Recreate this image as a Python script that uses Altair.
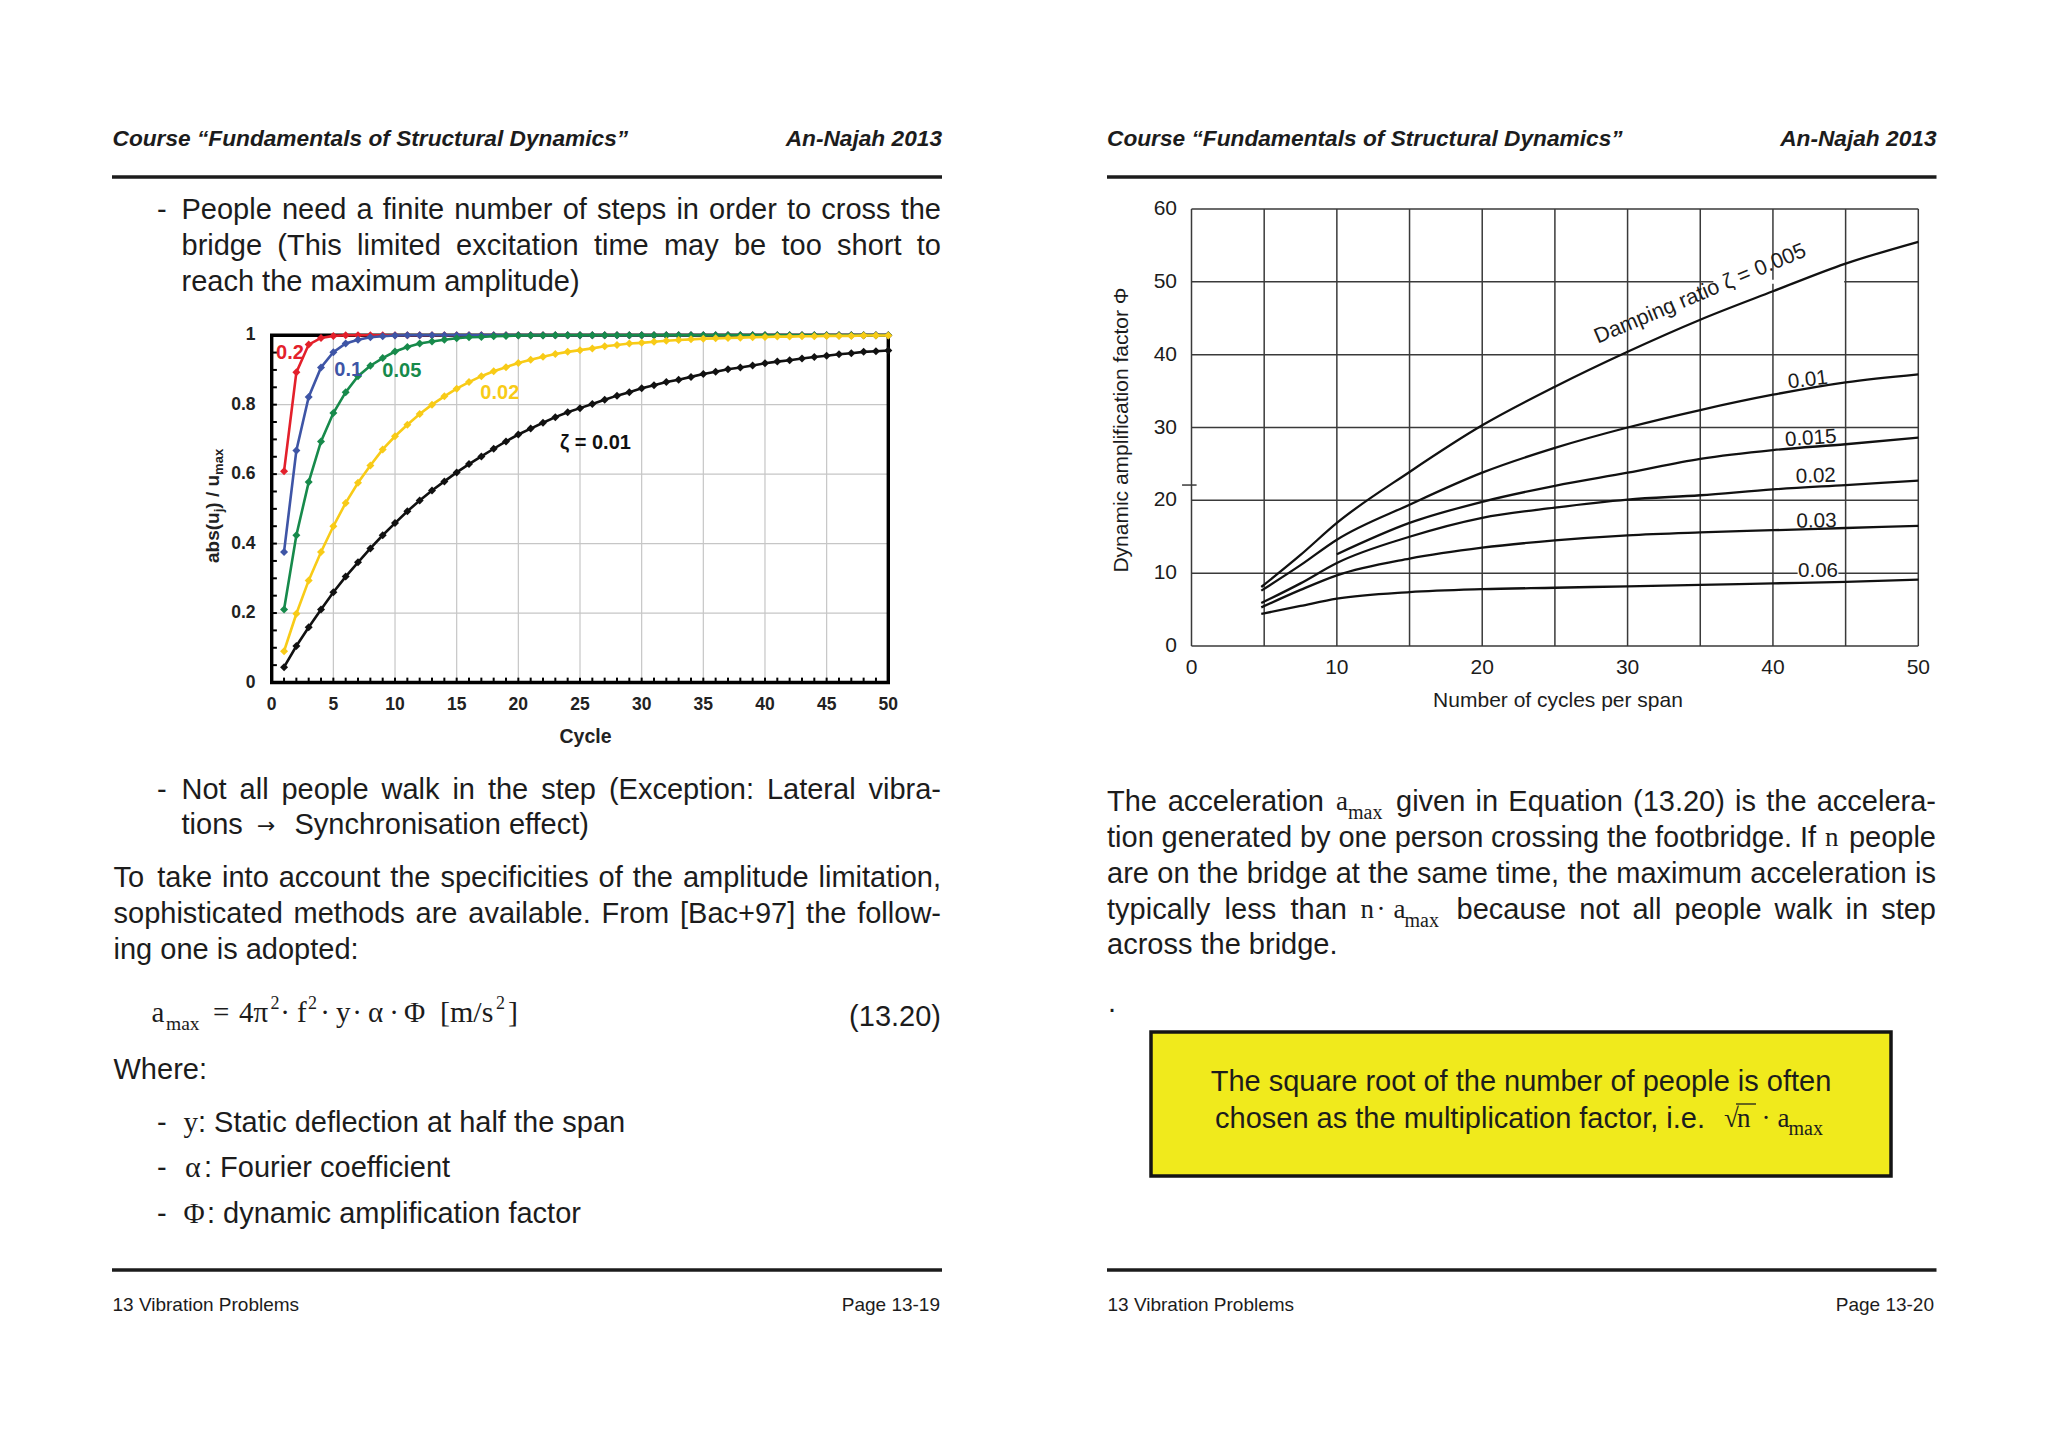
import altair as alt
import pandas as pd

OFF = 8  # page margin: chart coordinates = page coordinates - 8
SANS = "Liberation Sans, Arial, Helvetica, sans-serif"
SERIF = "Liberation Serif, Times New Roman, Times, serif"
INK = "#1c1c1c"

# ---------------- left chart data (abs(u_j)/u_max vs cycle) ----------------
CYCLES = [1, 2, 3, 4, 5, 6, 7, 8, 9, 10,
          11, 12, 13, 14, 15, 16, 17, 18, 19, 20,
          21, 22, 23, 24, 25, 26, 27, 28, 29, 30,
          31, 32, 33, 34, 35, 36, 37, 38, 39, 40,
          41, 42, 43, 44, 45, 46, 47, 48, 49, 50]
ZETA_LEFT = ["0.2", "0.1", "0.05", "0.02", "0.01"]
LEFT_COLORS = ["#E3202B", "#3E55A6", "#178A4B", "#F8CB17", "#111111"]
U_02 = [0.608, 0.893, 0.973, 0.992, 0.998, 1.0, 1.0, 1.0, 1.0, 1.0,
        1.0, 1.0, 1.0, 1.0, 1.0, 1.0, 1.0, 1.0, 1.0, 1.0,
        1.0, 1.0, 1.0, 1.0, 1.0, 1.0, 1.0, 1.0, 1.0, 1.0,
        1.0, 1.0, 1.0, 1.0, 1.0, 1.0, 1.0, 1.0, 1.0, 1.0,
        1.0, 1.0, 1.0, 1.0, 1.0, 1.0, 1.0, 1.0, 1.0, 1.0]
U_01 = [0.376, 0.668, 0.822, 0.907, 0.951, 0.976, 0.987, 0.994, 0.997, 0.999,
        1.0, 1.0, 1.0, 1.0, 1.0, 1.0, 1.0, 1.0, 1.0, 1.0,
        1.0, 1.0, 1.0, 1.0, 1.0, 1.0, 1.0, 1.0, 1.0, 1.0,
        1.0, 1.0, 1.0, 1.0, 1.0, 1.0, 1.0, 1.0, 1.0, 1.0,
        1.0, 1.0, 1.0, 1.0, 1.0, 1.0, 1.0, 1.0, 1.0, 1.0]
U_005 = [0.210, 0.424, 0.577, 0.694, 0.776, 0.836, 0.882, 0.912, 0.934, 0.953,
         0.966, 0.976, 0.982, 0.987, 0.991, 0.994, 0.995, 0.997, 0.998, 0.999,
         0.999, 0.999, 1.0, 1.0, 1.0, 1.0, 1.0, 1.0, 1.0, 1.0,
         1.0, 1.0, 1.0, 1.0, 1.0, 1.0, 1.0, 1.0, 1.0, 1.0,
         1.0, 1.0, 1.0, 1.0, 1.0, 1.0, 1.0, 1.0, 1.0, 1.0]
U_002 = [0.090, 0.198, 0.294, 0.376, 0.450, 0.517, 0.575, 0.625, 0.671, 0.709,
         0.742, 0.773, 0.800, 0.824, 0.846, 0.865, 0.882, 0.896, 0.908, 0.920,
         0.929, 0.938, 0.946, 0.952, 0.957, 0.962, 0.968, 0.972, 0.976, 0.978,
         0.981, 0.984, 0.986, 0.988, 0.990, 0.991, 0.992, 0.993, 0.994, 0.995,
         0.996, 0.996, 0.997, 0.997, 0.998, 0.998, 0.998, 0.999, 0.999, 0.999]
U_001 = [0.044, 0.105, 0.159, 0.210, 0.260, 0.305, 0.346, 0.386, 0.424, 0.459,
         0.493, 0.524, 0.553, 0.579, 0.605, 0.629, 0.651, 0.673, 0.694, 0.714,
         0.731, 0.748, 0.764, 0.778, 0.790, 0.802, 0.814, 0.826, 0.836, 0.847,
         0.856, 0.865, 0.872, 0.880, 0.888, 0.895, 0.902, 0.907, 0.913, 0.919,
         0.924, 0.928, 0.933, 0.937, 0.941, 0.945, 0.948, 0.952, 0.954, 0.956]
LEFT_LABELS = ["0.2", "0.1", "0.05", "0.02", "ζ = 0.01"]
LEFT_LABEL_X = [1.48, 6.2, 10.55, 18.5, 26.25]
LEFT_LABEL_Y = [0.949, 0.901, 0.896, 0.834, 0.689]
L_XTICKS = [0, 5, 10, 15, 20, 25, 30, 35, 40, 45, 50]
L_XLABELS = ["0", "5", "10", "15", "20", "25", "30", "35", "40", "45", "50"]
L_YTICKS = [0, 0.2, 0.4, 0.6, 0.8, 1.0]
L_YLABELS = ["0", "0.2", "0.4", "0.6", "0.8", "1"]
L_XGRID = [5, 10, 15, 20, 25, 30, 35, 40, 45]
L_YGRID = [0.2, 0.4, 0.6, 0.8]
L_XMINOR = [1, 2, 3, 4, 5, 6, 7, 8, 9, 10, 11, 12, 13, 14, 15, 16, 17, 18, 19, 20,
            21, 22, 23, 24, 25, 26, 27, 28, 29, 30, 31, 32, 33, 34, 35, 36, 37, 38, 39, 40,
            41, 42, 43, 44, 45, 46, 47, 48, 49]
L_YMINOR = [0.05, 0.1, 0.15, 0.2, 0.25, 0.3, 0.35, 0.4, 0.45, 0.5,
            0.55, 0.6, 0.65, 0.7, 0.75, 0.8, 0.85, 0.9, 0.95]

# ---------------- right chart data (Phi vs number of cycles) ----------------
ZETA_RIGHT = ["0.005", "0.01", "0.015", "0.02", "0.03", "0.06"]
R_X = [4.8, 7.5, 10, 15, 20, 25, 30, 35, 40, 45, 50]
R_X_015 = [10, 15, 20, 25, 30, 35, 40, 45, 50]
PHI_005 = [8.1, 12.5, 16.9, 23.9, 30.3, 35.6, 40.4, 44.8, 48.7, 52.5, 55.5]
PHI_01 = [7.6, 11.1, 14.6, 19.4, 23.8, 27.2, 30.0, 32.4, 34.5, 36.2, 37.3]
PHI_015 = [12.6, 16.9, 19.8, 22.0, 23.8, 25.7, 26.9, 27.7, 28.6]
PHI_02 = [5.9, 8.6, 11.4, 15.0, 17.6, 19.0, 20.1, 20.7, 21.5, 22.1, 22.7]
PHI_03 = [5.3, 7.7, 9.7, 12.0, 13.5, 14.5, 15.2, 15.6, 15.9, 16.2, 16.5]
PHI_06 = [4.4, 5.5, 6.5, 7.4, 7.8, 8.0, 8.2, 8.4, 8.6, 8.8, 9.1]
RIGHT_LABELS = ["Damping ratio ζ = 0.005", "0.01", "0.015", "0.02", "0.03", "0.06"]
RIGHT_LABEL_X = [35.0, 42.4, 42.6, 42.95, 43.0, 43.1]
RIGHT_LABEL_Y = [48.3, 36.5, 28.5, 23.3, 17.1, 10.3]
RIGHT_LABEL_ANGLE = [337.2, 353, 356, 358, 359, 0]
R_XTICKS = [0, 10, 20, 30, 40, 50]
R_YTICKS = [0, 10, 20, 30, 40, 50, 60]
R_XGRID = [0, 5, 10, 15, 20, 25, 30, 35, 40, 45, 50]
R_YGRID = [0, 10, 20, 30, 40, 50, 60]

one = alt.Data(values=[{"k": 0}])

# Arial / Liberation Sans advance widths (1/1000 em), used to justify text lines
_W = {" ": 278, "!": 278, '"': 355, "#": 556, "$": 556, "%": 889, "&": 667, "'": 191,
      "(": 333, ")": 333, "*": 389, "+": 584, ",": 278, "-": 333, ".": 278, "/": 278,
      ":": 278, ";": 278, "<": 584, "=": 584, ">": 584, "?": 556, "@": 1015,
      "A": 667, "B": 667, "C": 722, "D": 722, "E": 667, "F": 611, "G": 778, "H": 722,
      "I": 278, "J": 500, "K": 667, "L": 556, "M": 833, "N": 722, "O": 778, "P": 667,
      "Q": 778, "R": 722, "S": 667, "T": 611, "U": 722, "V": 667, "W": 944, "X": 667,
      "Y": 667, "Z": 611, "[": 278, "]": 278, "a": 556, "b": 556, "c": 500, "d": 556,
      "e": 556, "f": 278, "g": 556, "h": 556, "i": 222, "j": 222, "k": 500, "l": 222,
      "m": 833, "n": 556, "o": 556, "p": 556, "q": 556, "r": 333, "s": 500, "t": 278,
      "u": 556, "v": 500, "w": 722, "x": 500, "y": 500, "z": 500}


def tw(s, size):
    return sum(_W.get(c, 556) for c in s) * size / 1000.0


def T(x, y, s, size=29, font=SANS, weight="normal", style="normal",
      align="left", angle=0, color=INK, baseline="middle"):
    kw = dict(font=font, fontSize=size, fontWeight=weight, fontStyle=style,
              align=align, baseline=baseline, color=color)
    if angle:
        kw["angle"] = angle
    return alt.Chart(one).mark_text(**kw).encode(
        x=alt.value(x - OFF), y=alt.value(y - OFF), text=alt.value(s))


def J(x0, x1, y, line, size=29):
    """justified line: words spread between x0 and x1"""
    words = line.split(" ")
    if len(words) == 1:
        return [T(x0, y, line, size)]
    widths = [tw(w, size) for w in words]
    gap = (x1 - x0 - sum(widths)) / (len(words) - 1)
    out, x = [], x0
    for i, w in enumerate(words):
        if i == len(words) - 1:
            out.append(T(x1, y, w, size, align="right"))
        else:
            out.append(T(x, y, w, size))
        x += widths[i] + gap
    return out


def HR(x1, x2, y, w=3.5, color=INK):
    return alt.Chart(one).mark_rule(color=color, strokeWidth=w).encode(
        x=alt.value(x1 - OFF), x2=alt.value(x2 - OFF), y=alt.value(y - OFF))


HEADER_LEFT = "Course “Fundamentals of Structural Dynamics”"
HEADER_RIGHT = "An-Najah 2013"
FOOTER_LEFT = "13 Vibration Problems"
LM, LR = 113.5, 941   # left page text margins
BX = 181.5            # bullet text indent
RM, RR = 1107, 1936   # right page text margins

page = []
# ---------- left page text ----------
page += [
    T(112.5, 139, HEADER_LEFT, 22.7, weight="bold", style="italic"),
    T(942, 139, HEADER_RIGHT, 22.7, weight="bold", style="italic", align="right"),
    HR(112, 942, 177),
    T(157, 210, "-"),
]
page += J(BX, LR, 210, "People need a finite number of steps in order to cross the")
page += J(BX, LR, 246, "bridge (This limited excitation time may be too short to")
page += [T(BX, 282, "reach the maximum amplitude)"), T(157, 790, "-")]
page += J(BX, LR, 790, "Not all people walk in the step (Exception: Lateral vibra-")
page += [
    T(BX, 825, "tions"),
    T(257, 826, "→", 22, font="DejaVu Sans"),
    T(294.5, 825, "Synchronisation effect)"),
]
page += J(LM, LR, 878, "To take into account the specificities of the amplitude limitation,")
page += J(LM, LR, 914, "sophisticated methods are available. From [Bac+97] the follow-")
page += [T(LM, 950, "ing one is adopted:")]
EQB = 1021.7
SUPB = 1008.5
page += [
    T(151.5, EQB, "a", 29, SERIF, baseline="alphabetic"),
    T(166, 1030, "max", 19.5, SERIF, baseline="alphabetic"),
    T(213, EQB, "=", 29, SERIF, baseline="alphabetic"),
    T(239, EQB, "4π", 29, SERIF, baseline="alphabetic"),
    T(270.5, SUPB, "2", 18, SERIF, baseline="alphabetic"),
    T(285, EQB, "·", 29, SERIF, align="center", baseline="alphabetic"),
    T(297, EQB, "f", 29, SERIF, baseline="alphabetic"),
    T(308, SUPB, "2", 18, SERIF, baseline="alphabetic"),
    T(325, EQB, "·", 29, SERIF, align="center", baseline="alphabetic"),
    T(336, EQB, "y", 29, SERIF, baseline="alphabetic"),
    T(357, EQB, "·", 29, SERIF, align="center", baseline="alphabetic"),
    T(368, EQB, "α", 29, SERIF, baseline="alphabetic"),
    T(394, EQB, "·", 29, SERIF, align="center", baseline="alphabetic"),
    T(404, EQB, "Φ", 29, SERIF, baseline="alphabetic"),
    T(440, EQB, "[m/s", 30, SERIF, baseline="alphabetic"),
    T(496, SUPB, "2", 18, SERIF, baseline="alphabetic"),
    T(508, EQB, "]", 30, SERIF, baseline="alphabetic"),
    T(941, 1017, "(13.20)", align="right"),
    T(LM, 1070, "Where:"),
    T(157, 1123, "-"), T(183.5, 1123, "y", 29, SERIF),
    T(198, 1123, ": Static deflection at half the span"),
    T(157, 1168, "-"), T(185, 1168, "α", 30, SERIF),
    T(204, 1168, ": Fourier coefficient"),
    T(157, 1213.5, "-"), T(183.5, 1213.5, "Φ", 29, SERIF),
    T(207, 1213.5, ": dynamic amplification factor"),
    HR(112, 942, 1270),
    T(112.5, 1305, FOOTER_LEFT, 19),
    T(940, 1305, "Page 13-19", 19, align="right"),
]
# ---------- right page text ----------
page += [
    T(RM, 139, HEADER_LEFT, 22.7, weight="bold", style="italic"),
    T(1936.5, 139, HEADER_RIGHT, 22.7, weight="bold", style="italic", align="right"),
    HR(1107, 1936.5, 177),
]
page += J(RM, 1324, 802, "The acceleration")
page += [T(1336, 802, "a", 27, SERIF), T(1348, 812.5, "max", 20, SERIF)]
page += J(1396, RR, 802, "given in Equation (13.20) is the accelera-")
page += J(RM, 1816, 838, "tion generated by one person crossing the footbridge. If")
page += [T(1825, 838, "n", 27, SERIF), T(RR, 838, "people", align="right")]
page += J(RM, RR, 874, "are on the bridge at the same time, the maximum acceleration is")
page += J(RM, 1347, 910, "typically less than")
page += [
    T(1360.5, 910, "n", 27, SERIF),
    T(1381, 910, "·", 27, SERIF, align="center"),
    T(1393.5, 910, "a", 27, SERIF), T(1404.5, 920.5, "max", 20, SERIF),
]
page += J(1456.5, RR, 910, "because not all people walk in step")
page += [
    T(RM, 945, "across the bridge."),
    T(1108, 1003, "."),
    alt.Chart(one).mark_rect(fill="#F0EA1C", stroke="#141414", strokeWidth=3.5).encode(
        x=alt.value(1151 - OFF), x2=alt.value(1891 - OFF),
        y=alt.value(1032 - OFF), y2=alt.value(1176 - OFF)),
    T(1521, 1082, "The square root of the number of people is often", align="center"),
    T(1215, 1118.5, "chosen as the multiplication factor, i.e."),
    T(1724, 1118.5, "√", 27, SERIF),
    HR(1736, 1756, 1104, 1.3),
    T(1737, 1118.5, "n", 27, SERIF),
    T(1766, 1118.5, "·", 27, SERIF, align="center"),
    T(1777.5, 1118.5, "a", 27, SERIF), T(1788.5, 1128.5, "max", 20, SERIF),
    HR(1107, 1936.5, 1270),
    T(1107.5, 1305, FOOTER_LEFT, 19),
    T(1934, 1305, "Page 13-20", 19, align="right"),
]

# ---------------- left chart ----------------
LX = alt.Scale(domain=[0, 50], range=[271.7 - OFF, 888.3 - OFF], nice=False)
LY = alt.Scale(domain=[0, 1], range=[682.5 - OFF, 335.2 - OFF], nice=False)


def lx(f="v"):
    return alt.X(f"{f}:Q", scale=LX, axis=None)


def ly(f="v"):
    return alt.Y(f"{f}:Q", scale=LY, axis=None)


GRID_L = "#c6c6c6"
left = [
    alt.Chart(pd.DataFrame({"v": L_XGRID})).mark_rule(color=GRID_L, strokeWidth=1.2).encode(
        x=lx(), y=alt.YDatum(0, scale=LY, axis=None), y2=alt.Y2Datum(1)),
    alt.Chart(pd.DataFrame({"v": L_YGRID})).mark_rule(color=GRID_L, strokeWidth=1.2).encode(
        y=ly(), x=alt.XDatum(0, scale=LX, axis=None), x2=alt.X2Datum(50)),
    alt.Chart(one).mark_rect(fillOpacity=0, stroke="#000000", strokeWidth=3.4).encode(
        x=alt.XDatum(0, scale=LX, axis=None), x2=alt.X2Datum(50),
        y=alt.YDatum(0, scale=LY, axis=None), y2=alt.Y2Datum(1)),
    alt.Chart(pd.DataFrame({"v": L_YMINOR})).mark_rule(color="#000000", strokeWidth=2).encode(
        y=ly(), x=alt.XDatum(0, scale=LX, axis=None), x2=alt.X2Datum(0.42)),
    alt.Chart(pd.DataFrame({"v": L_XMINOR})).mark_rule(color="#000000", strokeWidth=2).encode(
        x=lx(), y=alt.YDatum(0, scale=LY, axis=None), y2=alt.Y2Datum(0.014)),
]
for name, vals, col in zip(ZETA_LEFT, [U_02, U_01, U_005, U_002, U_001], LEFT_COLORS):
    df = pd.DataFrame({"cycle": CYCLES, "val": vals, "zeta": name})
    left.append(alt.Chart(df).mark_line(color=col, strokeWidth=2.6).encode(
        x=lx("cycle"), y=ly("val")))
    left.append(alt.Chart(df).mark_point(shape="diamond", filled=True, size=64, color=col,
                                         opacity=1).encode(x=lx("cycle"), y=ly("val")))
for s, xv, yv, col in zip(LEFT_LABELS, LEFT_LABEL_X, LEFT_LABEL_Y, LEFT_COLORS):
    left.append(alt.Chart(one).mark_text(font=SANS, fontSize=20, fontWeight="bold", color=col,
                                         align="center", baseline="middle").encode(
        x=alt.XDatum(xv, scale=LX, axis=None), y=alt.YDatum(yv, scale=LY, axis=None),
        text=alt.value(s)))
left.append(alt.Chart(pd.DataFrame({"v": L_XTICKS, "lab": L_XLABELS})).mark_text(
    font=SANS, fontSize=17.5, fontWeight="bold", color="#222222", align="center", baseline="middle").encode(
    x=lx(), y=alt.value(705 - OFF), text="lab:N"))
left.append(alt.Chart(pd.DataFrame({"v": L_YTICKS, "lab": L_YLABELS})).mark_text(
    font=SANS, fontSize=17.5, fontWeight="bold", color="#222222", align="right", baseline="middle").encode(
    y=ly(), x=alt.value(255.5 - OFF), text="lab:N"))
left += [
    T(585.5, 737, "Cycle", 19.5, weight="bold", align="center", color="#222222"),
    T(213, 563, "abs(u", 19, weight="bold", angle=270, color="#222222"),
    T(218.5, 512.3, "j", 13, weight="bold", angle=270, color="#222222"),
    T(213, 508.7, ") / u", 19, weight="bold", angle=270, color="#222222"),
    T(218.5, 474.9, "max", 13, weight="bold", angle=270, color="#222222"),
]
left_chart = alt.layer(*left)

# ---------------- right chart ----------------
RX = alt.Scale(domain=[0, 50], range=[1191.5 - OFF, 1918.3 - OFF], nice=False)
RY = alt.Scale(domain=[0, 60], range=[646 - OFF, 209 - OFF], nice=False)


def rx(f="v"):
    return alt.X(f"{f}:Q", scale=RX, axis=None)


def ry(f="v"):
    return alt.Y(f"{f}:Q", scale=RY, axis=None)


GRID_R = "#3a3a3a"
right = [
    alt.Chart(pd.DataFrame({"v": R_XGRID})).mark_rule(color=GRID_R, strokeWidth=1.5).encode(
        x=rx(), y=alt.YDatum(0, scale=RY, axis=None), y2=alt.Y2Datum(60)),
    alt.Chart(pd.DataFrame({"v": R_YGRID})).mark_rule(color=GRID_R, strokeWidth=1.5).encode(
        y=ry(), x=alt.XDatum(0, scale=RX, axis=None), x2=alt.X2Datum(50)),
    # break in the 50-line behind the damping-ratio label, and blank behind "0.06"
    alt.Chart(one).mark_rule(color="white", strokeWidth=4).encode(
        y=alt.YDatum(50, scale=RY, axis=None), x=alt.XDatum(35.9, scale=RX, axis=None),
        x2=alt.X2Datum(44.9)),
    alt.Chart(one).mark_rect(color="white").encode(
        x=alt.XDatum(41.7, scale=RX, axis=None), x2=alt.X2Datum(44.5),
        y=alt.YDatum(9.3, scale=RY, axis=None), y2=alt.Y2Datum(11.3)),
    alt.Chart(one).mark_rule(color=GRID_R, strokeWidth=1.5).encode(
        y=alt.YDatum(22.1, scale=RY, axis=None), x=alt.XDatum(-0.65, scale=RX, axis=None),
        x2=alt.X2Datum(0.35)),
]
for name, xs, vals in zip(ZETA_RIGHT, [R_X, R_X, R_X_015, R_X, R_X, R_X],
                          [PHI_005, PHI_01, PHI_015, PHI_02, PHI_03, PHI_06]):
    df = pd.DataFrame({"n": xs, "phi": vals, "zeta": name})
    right.append(alt.Chart(df).mark_line(color="#111111", strokeWidth=2.3, interpolate="monotone").encode(
        x=rx("n"), y=ry("phi")))
for i, (s, xv, yv, ang) in enumerate(zip(RIGHT_LABELS, RIGHT_LABEL_X, RIGHT_LABEL_Y,
                                          RIGHT_LABEL_ANGLE)):
    kw = dict(font=SANS, fontSize=21.5 if i == 0 else 20.6, color=INK, align="center",
              baseline="middle")
    if ang:
        kw["angle"] = ang
    right.append(alt.Chart(one).mark_text(**kw).encode(
        x=alt.XDatum(xv, scale=RX, axis=None), y=alt.YDatum(yv, scale=RY, axis=None),
        text=alt.value(s)))
right.append(alt.Chart(pd.DataFrame({"v": R_XTICKS, "lab": [str(v) for v in R_XTICKS]})).mark_text(
    font=SANS, fontSize=21, color=INK, align="center", baseline="middle").encode(
    x=rx(), y=alt.value(667.5 - OFF), text="lab:N"))
right.append(alt.Chart(pd.DataFrame({"v": R_YTICKS, "lab": [str(v) for v in R_YTICKS]})).mark_text(
    font=SANS, fontSize=21, color=INK, align="right", baseline="middle").encode(
    y=ry(), x=alt.value(1177 - OFF), text="lab:N"))
right += [
    T(1558, 701, "Number of cycles per span", 21, align="center"),
    T(1122, 430, "Dynamic amplification factor Φ", 21, align="center", angle=270),
]
right_chart = alt.layer(*right)

chart = alt.layer(*page, left_chart, right_chart).resolve_scale(
    x="independent", y="independent"
).properties(
    width=2032, height=1432,
    autosize=alt.AutoSizeParams(type="none"),
    padding=0, background="white",
).configure_view(stroke=None)

chart.save("out.html", embed_options={"renderer": "svg", "actions": False})
